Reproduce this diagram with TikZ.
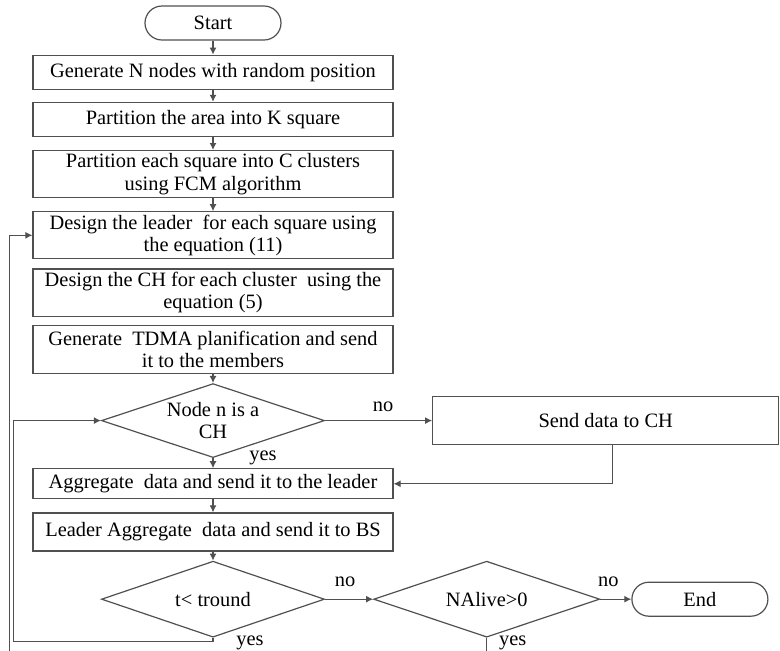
\documentclass[tikz,border=0pt]{standalone}
\usepackage{fontspec}
\setmainfont{Liberation Serif}
\usetikzlibrary{positioning,arrows.meta,calc,shapes.geometric}
\definecolor{LineGrey}{HTML}{505050}

\begin{document}
\begin{tikzpicture}[
	node distance=6pt,
	font=\fontsize{10.2}{11.2}\selectfont,
	procbox/.style={
		draw=LineGrey,
		line width=0.6pt,
		minimum width=180pt,
		minimum height=17pt,
		align=center,
		inner ysep=1.5pt
	},
	terminal/.style={
		draw=LineGrey,
		line width=0.6pt,
		rounded corners=8.5pt,
		minimum width=68pt,
		minimum height=17pt
	},
	decision/.style={
		diamond,
		draw=LineGrey,
		line width=0.6pt,
		shape aspect=3,
		inner sep=0pt,
		minimum width=111.5pt,
		minimum height=37pt,
		align=center
	},
	arr/.style={
		-{Latex[length=3.5pt,width=3.5pt]},
		draw=LineGrey,
		line width=0.6pt
	},
	lbl/.style={
		inner sep=0pt
	}
	]
	
	\node[terminal] (start) {Start};
	
	\node[procbox, below=7pt of start] (gen) {Generate N nodes with random position};
	\node[procbox, below=6pt of gen] (part) {Partition the area into K square};
	\node[procbox, below=6.5pt of part, minimum height=23pt] (fcm) {Partition each square into C clusters\\using FCM algorithm};
	\node[procbox, below=6.5pt of fcm, minimum height=23.5pt] (leader) {Design the leader \ for each square using\\the equation (11)};
	\node[procbox, below=4.5pt of leader, minimum height=23.5pt] (chsel) {Design the CH for each cluster \ using the\\equation (5)};
	\node[procbox, below=4pt of chsel, minimum height=24pt] (tdma) {Generate \ TDMA planification and send\\it to the members};
	
	\node[decision, below=4.5pt of tdma] (isch) {Node n is a\\CH};
	\node[procbox, right=53.5pt of isch, minimum width=173pt, minimum height=24pt] (send) {Send data to CH};
	
	\node[procbox, below=5pt of isch, minimum height=15pt] (aggr) {Aggregate \ data and send it to the leader};
	\node[procbox, below=6.5pt of aggr, minimum height=19pt] (tobs) {Leader Aggregate \ data and send it to BS};
	
	\node[decision, below=4.5pt of tobs, minimum height=38pt] (round) {t< tround};
	\node[decision, right=24pt of round, minimum width=113pt, minimum height=38pt] (alive) {NAlive>0};
	\node[terminal, right=15.5pt of alive] (end) {End};
	
	% page frame, the picture is cut at its bottom
	\coordinate (topleft) at ($(start.center)+(-106.5pt,11.5pt)$);
	\useasboundingbox (topleft) rectangle ++(390pt,-325pt);
	\clip (topleft) rectangle ++(390pt,-325pt);
	
	% main column
	\draw[arr] (start) -- (gen);
	\draw[arr] (gen) -- (part);
	\draw[arr] (part) -- (fcm);
	\draw[arr] (fcm) -- (leader);
	\draw[arr] (tdma) -- (isch);
	\draw[arr] (isch) -- (aggr);
	\draw[arr] (aggr) -- (tobs);
	\draw[arr] (tobs) -- (round);
	
	% branches
	\draw[arr] (isch) -- (send);
	\draw[arr] ([xshift=3.5pt]send.south) |- (aggr.east);
	\draw[arr] (round) -- (alive);
	\draw[arr] (alive) -- (end);
	
	% loops back
	\draw[arr] (round.south) -- ++(0,-2pt) -| ($(isch.west)+(-43.5pt,0)$) -- (isch.west);
	\draw[arr] (alive.south) -- ++(0,-12pt) -| ($(leader.west)+(-11.5pt,0)$) -- (leader.west);
	
	% labels
	\node[lbl] (no1) at ($(isch.east)+(29pt,7pt)$) {no};
	\node[lbl] (yes1) at ($(isch.south)+(25pt,0pt)$) {yes};
	\node[lbl] (no2) at ($(round.east)+(10pt,8.5pt)$) {no};
	\node[lbl] (yes2) at ($(round.south)+(18.5pt,-2.5pt)$) {yes};
	\node[lbl] (no3) at ($(alive.east)+(4pt,8.5pt)$) {no};
	\node[lbl] (yes3) at ($(alive.south)+(13pt,-2.5pt)$) {yes};
	
\end{tikzpicture}
\end{document}
